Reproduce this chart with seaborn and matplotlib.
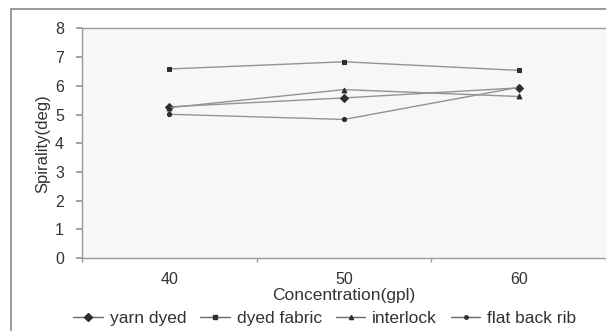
import matplotlib
matplotlib.use("Agg")
import matplotlib.pyplot as plt
import seaborn as sns
import pandas as pd
from matplotlib.lines import Line2D

concentration = [40, 50, 60]
yarn_dyed = [5.27, 5.58, 5.93]
dyed_fabric = [6.59, 6.84, 6.54]
interlock = [5.24, 5.87, 5.63]
flat_back_rib = [5.01, 4.83, 5.95]
series_names = ["yarn dyed", "dyed fabric", "interlock", "flat back rib"]
y_ticks = [0, 1, 2, 3, 4, 5, 6, 7, 8]

sns.set_theme(style="white")
plt.rcParams["font.family"] = ["Liberation Sans", "DejaVu Sans"]

TXT = "#333333"
fig = plt.figure(figsize=(6.06, 3.31), dpi=100)
ax = fig.add_axes([82 / 606, 1 - 258 / 331, 1 - 82 / 606, (258 - 28.5) / 331])
ax.set_facecolor("#f7f7f9")

markers = ["D", "s", "^", "o"]
msizes = [4.5, 3.5, 3.5, 3]
values = [yarn_dyed, dyed_fabric, interlock, flat_back_rib]
handles = []
for name, vals, m, ms in zip(series_names, values, markers, msizes):
    df = pd.DataFrame({"x": concentration, "y": vals})
    sns.lineplot(data=df, x="x", y="y", ax=ax, color="#939393", linewidth=1.0,
                 marker=m, markersize=ms, markerfacecolor="#2e2e2e",
                 markeredgecolor="#2e2e2e", legend=False)
    handles.append(Line2D([0], [0], color="#6a6a6a", linewidth=1.0, marker=m,
                          markersize=ms - 0.5, markerfacecolor="#2e2e2e",
                          markeredgecolor="#2e2e2e", label=name))

ax.set_xlim(35, 65)
ax.set_ylim(0, 8)
ax.set_yticks(y_ticks)
ax.set_xticks(concentration)
ax.set_xticks([35, 45, 55, 65], minor=True)
ax.tick_params(axis="x", which="major", length=0, pad=10, labelsize=11.5, labelcolor=TXT)
ax.tick_params(axis="x", which="minor", length=3, color="#999999", direction="out", bottom=True)
ax.tick_params(axis="y", which="major", length=4, color="#999999", direction="out", left=True,
               labelsize=11.5, labelcolor=TXT, pad=9)
ax.set_xlabel("Concentration(gpl)", fontsize=12.5, color=TXT, labelpad=1)
ax.set_ylabel("Spirality(deg)", fontsize=12, color=TXT, labelpad=3)

for side in ["left", "bottom", "top"]:
    ax.spines[side].set_visible(True)
    ax.spines[side].set_color("#9a9a9a")
    ax.spines[side].set_linewidth(1.0)
ax.spines["right"].set_visible(False)

# outer frame
fig.add_artist(Line2D([11 / 606, 11 / 606], [0, 1 - 9 / 331], color="#8a8a8a", linewidth=1.2,
                      transform=fig.transFigure))
fig.add_artist(Line2D([11 / 606, 1], [1 - 9 / 331, 1 - 9 / 331], color="#8a8a8a", linewidth=1.2,
                      transform=fig.transFigure))

fig.legend(handles=handles, loc="center", bbox_to_anchor=(325 / 606, 1 - 318 / 331),
           ncol=4, frameon=False, fontsize=12.5, handlelength=1.7, handletextpad=0.4,
           columnspacing=0.8, labelcolor=TXT, borderpad=0, borderaxespad=0)

fig.savefig("out.png", dpi=100)
